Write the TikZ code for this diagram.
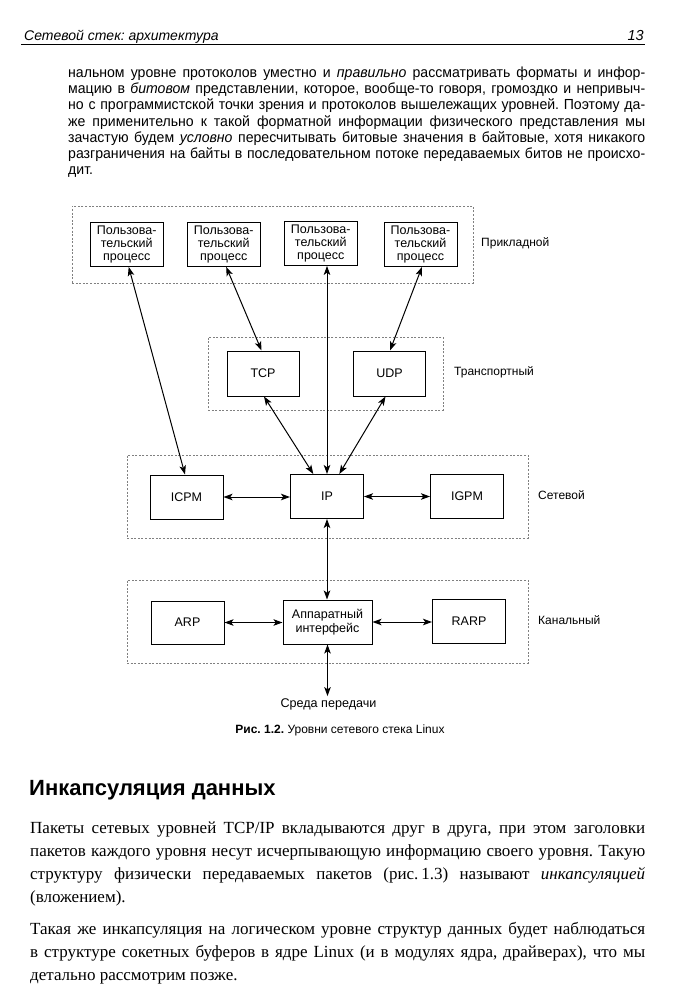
\documentclass[tikz,border=0pt]{standalone}
\usepackage{fontspec}
\setmainfont{Liberation Serif}
\setsansfont{Liberation Sans}
\newfontfamily\narrowsans[FakeStretch=0.965]{Liberation Sans}
\usetikzlibrary{arrows.meta,calc}
\tikzset{
  pbox/.style={draw, line width=1pt, inner sep=0pt, align=center,
    font=\sffamily\fontsize{12.5}{13}\selectfont},
  layer/.style={draw=black!50, dash pattern=on 2pt off 1.6pt, line width=0.6pt,
    inner sep=0pt},
  lbl/.style={anchor=west, inner sep=0pt, font=\sffamily\fontsize{12}{14}\selectfont},
  arr/.style={{Stealth[length=9pt,width=6.5pt,inset=2.2pt]}-{Stealth[length=9pt,width=6.5pt,inset=2.2pt]}, line width=1pt},
  toptext/.style={anchor=north west, inner sep=0pt, align=left,
    font=\narrowsans\fontsize{14.6}{16.1}\selectfont},
  bottext/.style={anchor=north west, inner sep=0pt, align=left,
    font=\rmfamily\fontsize{17}{23}\selectfont},
}
\newcommand{\tl}[1]{\makebox[577pt][s]{#1}}
\newcommand{\bl}[1]{\makebox[615pt][s]{#1}}
\begin{document}
\frenchspacing
\begin{tikzpicture}[x=1pt,y=-1pt]
\useasboundingbox (0,0) rectangle (685,1000);
\fill[white] (0,0) rectangle (685,1000);

% header
\node[anchor=base west, inner sep=0pt, font=\sffamily\itshape\fontsize{14}{16}\selectfont] (hdr) at (24,41) {Сетевой стек: архитектура};
\node[anchor=base east, inner sep=0pt, font=\sffamily\itshape\fontsize{14.5}{17}\selectfont] (pg) at (644,41) {13};
\coordinate (rl) at (21,45);
\coordinate (rr) at (645,45);
\draw[line width=1pt] (rl) -- (rr);

% top paragraph
\node[toptext] (para1) at (68,67) {%
\tl{нальном уровне протоколов уместно и \textit{правильно} рассматривать форматы и инфор-}\\
\tl{мацию в \textit{битовом} представлении, которое, вообще-то говоря, громоздко и непривыч-}\\
\tl{но с программистской точки зрения и протоколов вышележащих уровней. Поэтому да-}\\
\tl{же применительно к такой форматной информации физического представления мы}\\
\tl{зачастую будем \textit{условно} пересчитывать битовые значения в байтовые, хотя никакого}\\
\tl{разграничения на байты в последовательном потоке передаваемых битов не происхо-}\\
дит.};

% layers
\node[layer, minimum width=401pt, minimum height=77pt] (lapp) at (272.5,244.5) {};
\node[layer, minimum width=235pt, minimum height=73pt] (ltr) at (325.5,373.5) {};
\node[layer, minimum width=401pt, minimum height=83pt] (lnet) at (327.5,496.5) {};
\node[layer, minimum width=401pt, minimum height=83pt] (llnk) at (327.5,621.5) {};

% application
\node[pbox, minimum width=73pt, minimum height=44pt] (up1) at (126.7,244.4) {Пользова-\\тельский\\процесс};
\node[pbox, minimum width=73pt, minimum height=44pt] (up2) at (223.7,244.4) {Пользова-\\тельский\\процесс};
\node[pbox, minimum width=73pt, minimum height=44pt] (up3) at (320.8,243.4) {Пользова-\\тельский\\процесс};
\node[pbox, minimum width=73pt, minimum height=44pt] (up4) at (420.5,244.4) {Пользова-\\тельский\\процесс};
\node[lbl] (tapp) at (481,243) {Прикладной};

% transport
\node[pbox, minimum width=72pt, minimum height=45pt] (tcp) at (263,373.5) {TCP};
\node[pbox, minimum width=72pt, minimum height=45pt] (udp) at (389.5,373.5) {UDP};
\node[lbl] (ttr) at (454,372) {Транспортный};

% network
\node[pbox, minimum width=73pt, minimum height=44pt] (icpm) at (186.5,497) {ICPM};
\node[pbox, minimum width=73pt, minimum height=44pt] (ip) at (327,496.5) {IP};
\node[pbox, minimum width=73pt, minimum height=44pt] (igpm) at (467,496) {IGPM};
\node[lbl] (tnet) at (538,495) {Сетевой};

% link
\node[pbox, minimum width=73pt, minimum height=43pt] (arp) at (187.5,622.5) {ARP};
\node[pbox, minimum width=89pt, minimum height=44pt] (hw) at (327.5,622) {Аппаратный\\[1pt]интерфейс};
\node[pbox, minimum width=73pt, minimum height=44pt] (rarp) at (469,621) {RARP};
\node[lbl] (tlnk) at (538,620) {Канальный};

\node[inner sep=2pt, font=\sffamily\fontsize{12.6}{14}\selectfont] (med) at (328.5,704) {Среда передачи};

% caption
\node[inner sep=0pt, font=\sffamily\fontsize{12}{13}\selectfont] (cap) at (340,730) {\textbf{Рис. 1.2.} Уровни сетевого стека Linux};

% connectors
\draw[arr] ($(up1.south)+(2,0)$) -- ($(icpm.north)+(-1.5,0)$);
\draw[arr] ($(up2.south)+(2.5,0)$) -- ($(tcp.north)+(-1.5,0)$);
\draw[arr] (ip.north |- up3.south) -- (ip.north);
\draw[arr] ($(up4.south)+(1.5,0)$) -- ($(udp.north)+(0.5,0)$);
\draw[arr] ($(tcp.south)+(1,0)$) -- ($(ip.north)+(-13.7,0)$);
\draw[arr] ($(udp.south)+(-4,0)$) -- ($(ip.north)+(12.3,0)$);
\draw[arr] (icpm.east) -- (icpm.east -| ip.west);
\draw[arr] (ip.east) -- (ip.east -| igpm.west);
\draw[arr] (ip.south) -- (ip.south |- hw.north);
\draw[arr] (arp.east) -- (arp.east -| hw.west);
\draw[arr] (hw.east) -- (hw.east -| rarp.west);
\draw[arr] (hw.south) -- (hw.south |- med.north);

% heading
\node[anchor=base west, inner sep=0pt, font=\sffamily\bfseries\fontsize{22}{25}\selectfont] (hd) at (29,795) {Инкапсуляция данных};

% bottom paragraphs
\node[bottext] (para2) at (30,822) {%
\bl{Пакеты сетевых уровней TCP/IP вкладываются друг в друга, при этом заголовки}\\
\bl{пакетов каждого уровня несут исчерпывающую информацию своего уровня. Такую}\\
\bl{структуру физически передаваемых пакетов (рис.\,1.3) называют \textit{инкапсуляцией}}\\
(вложением).};
\node[bottext] (para3) at (30,922) {%
\bl{Такая же инкапсуляция на логическом уровне структур данных будет наблюдаться}\\
\bl{в структуре сокетных буферов в ядре Linux (и в модулях ядра, драйверах), что мы}\\
детально рассмотрим позже.};
\end{tikzpicture}
\end{document}
